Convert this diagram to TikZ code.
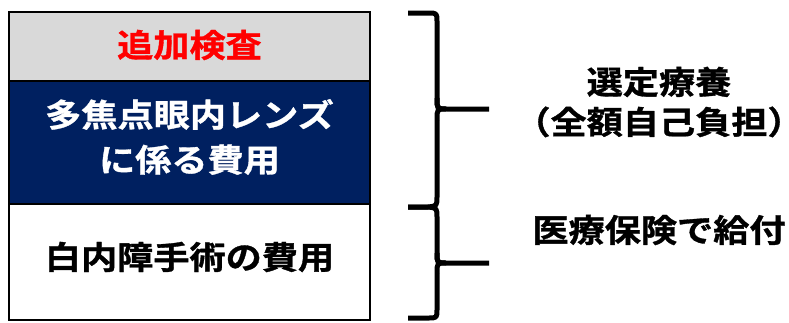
\documentclass[tikz,border=0pt]{standalone}
\usepackage{fontspec}
\usepackage{graphicx}
\newfontfamily\cjk{Noto Sans CJK JP}[BoldFont={Noto Sans CJK JP Bold},BoldFeatures={FakeBold=1}]
\newcommand\widetxt[1]{\scalebox{1.13}[1]{#1}}
\definecolor{navy}{HTML}{002060}
\definecolor{lgray}{HTML}{D9D9D9}
\definecolor{hred}{HTML}{FF0000}
\begin{document}
\begin{tikzpicture}[x=1pt,y=-1pt,
  cell/.style={draw=black,line width=2pt},
  lbl/.style={font=\cjk\bfseries\fontsize{32}{45}\selectfont,align=center,inner sep=0pt},
  rlbl/.style={lbl,font=\cjk\bfseries\fontsize{32}{40}\selectfont},
  brace/.style={line width=5pt,line join=round}]
\useasboundingbox (0,0) rectangle (789,322);
\fill[white] (0,0) rectangle (789,322);
\draw[cell,fill=lgray] (9,12) rectangle (370,81);
\draw[cell,fill=navy] (9,81) rectangle (370,204);
\draw[cell,fill=white] (9,204) rectangle (370,320);
\node[lbl,text=hred] (add) at (189.5,45) {\widetxt{追加検査}};
\node[lbl,text=white] (lens) at (189.5,137) {\widetxt{多焦点眼内レンズ}\\\widetxt{に係る費用}};
\node[lbl,text=black] (cat) at (189.5,257) {\widetxt{白内障手術の費用}};
\node[rlbl,text=black] (sel) at (659,102) {\widetxt{選定療養}\\\widetxt{（全額自己負担）}};
\node[rlbl,text=black] (ins) at (659,230) {\widetxt{医療保険で給付}};
% braces
\coordinate (b1t) at (408,13);
\coordinate (b1m) at (489,109);
\coordinate (bj) at (408,207);
\coordinate (b2m) at (489,263);
\coordinate (b2b) at (408,318);
\draw[brace] (b1t) -- (428,13) .. controls (437,13) .. (437,22) -- (437,98)
  .. controls (437,109) .. (447,109) -- (b1m);
\draw[brace] (437,120) -- (437,196) .. controls (437,206) .. (428,207) -- (bj);
\draw[brace] (bj) -- (428,207) .. controls (437,208) .. (437,218) -- (437,253)
  .. controls (437,263) .. (447,263) -- (b2m);
\draw[brace] (437,273) -- (437,309) .. controls (437,318) .. (428,318) -- (b2b);
\draw[line width=5pt] (437,98) .. controls (437,109) .. (446,109) .. controls (437,109) .. (437,120);
\draw[line width=5pt] (437,253) .. controls (437,263) .. (446,263) .. controls (437,263) .. (437,273);
\end{tikzpicture}
\end{document}
